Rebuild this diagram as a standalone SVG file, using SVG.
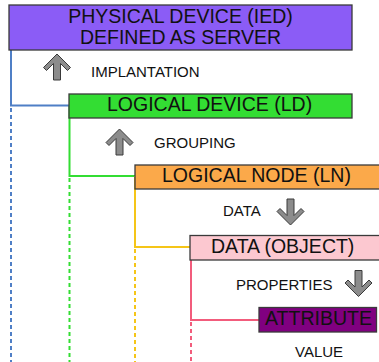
<svg xmlns="http://www.w3.org/2000/svg" width="379" height="362" viewBox="0 0 379 362">
<style>
.box{stroke:#3a3a3a;stroke-width:1.3}
.bt{font-family:"Liberation Sans",Arial,sans-serif;font-size:19.5px;fill:#111}
.lb{font-family:"Liberation Sans",Arial,sans-serif;font-size:15px;fill:#111}
.ln{fill:none;stroke-width:2}
.dot{fill:none;stroke-width:2;stroke-dasharray:4 3}
.arr{fill:#8c8c8c;stroke:#3a3a3a;stroke-width:1;stroke-linejoin:miter}
</style>
<defs>
<path id="darrow" d="M-3.5,0 L3.5,0 L3.5,16.5 L10.5,9.5 L13.5,12.5 L0,26 L-13.5,12.5 L-10.5,9.5 L-3.5,16.5 Z"/>
</defs>
<rect width="379" height="362" fill="#ffffff"/>
<g id="connectors">
<path class="ln" stroke="#4f7fc6" d="M11,50 V105.5 H69"/>
<path class="dot" stroke="#4f7fc6" d="M11,108 V362"/>
<path class="ln" stroke="#33dd33" d="M69.5,105.5 V176 H135"/>
<path class="dot" stroke="#33dd33" d="M69.5,178 V362"/>
<path class="ln" stroke="#f5c518" d="M135,176 V247 H190"/>
<path class="dot" stroke="#f5c518" d="M135,249 V362"/>
<path class="ln" stroke="#f25c7c" d="M191,247 V320 H259"/>
<path class="dot" stroke="#f25c7c" d="M191,322 V362"/>
</g>
<g id="physical-device">
<rect class="box" x="9" y="5" width="343" height="45" fill="#8b5cf6"/>
<text class="bt" x="180.5" y="22.5" text-anchor="middle">PHYSICAL DEVICE (IED)</text>
<text class="bt" x="180.5" y="43.5" text-anchor="middle">DEFINED AS SERVER</text>
</g>
<g id="implantation">
<use href="#darrow" class="arr" transform="translate(57,80) scale(1,-1)"/>
<text class="lb" x="91" y="77">IMPLANTATION</text>
</g>
<g id="logical-device">
<rect class="box" x="69" y="94" width="283" height="24" fill="#33dd33"/>
<text class="bt" x="107" y="111">LOGICAL DEVICE (LD)</text>
</g>
<g id="grouping">
<use href="#darrow" class="arr" transform="translate(119.5,155) scale(1,-1)"/>
<text class="lb" x="154" y="148">GROUPING</text>
</g>
<g id="logical-node">
<rect class="box" x="135" y="165" width="250" height="24" fill="#fba94a"/>
<text class="bt" x="162" y="182">LOGICAL NODE (LN)</text>
</g>
<g id="data-label">
<text class="lb" x="223" y="216">DATA</text>
<use href="#darrow" class="arr" transform="translate(290.5,199)"/>
</g>
<g id="data-object">
<rect class="box" x="190" y="235.5" width="195" height="24.5" fill="#fcc8d0"/>
<text class="bt" x="211" y="253">DATA (OBJECT)</text>
</g>
<g id="properties">
<text class="lb" x="236" y="290">PROPERTIES</text>
<use href="#darrow" class="arr" transform="translate(358.5,270.5)"/>
</g>
<g id="attribute">
<rect class="box" x="259" y="307.5" width="117.5" height="24.5" fill="#800080"/>
<text class="bt" x="265" y="325">ATTRIBUTE</text>
</g>
<g id="value">
<text class="lb" x="295" y="357">VALUE</text>
</g>
</svg>
